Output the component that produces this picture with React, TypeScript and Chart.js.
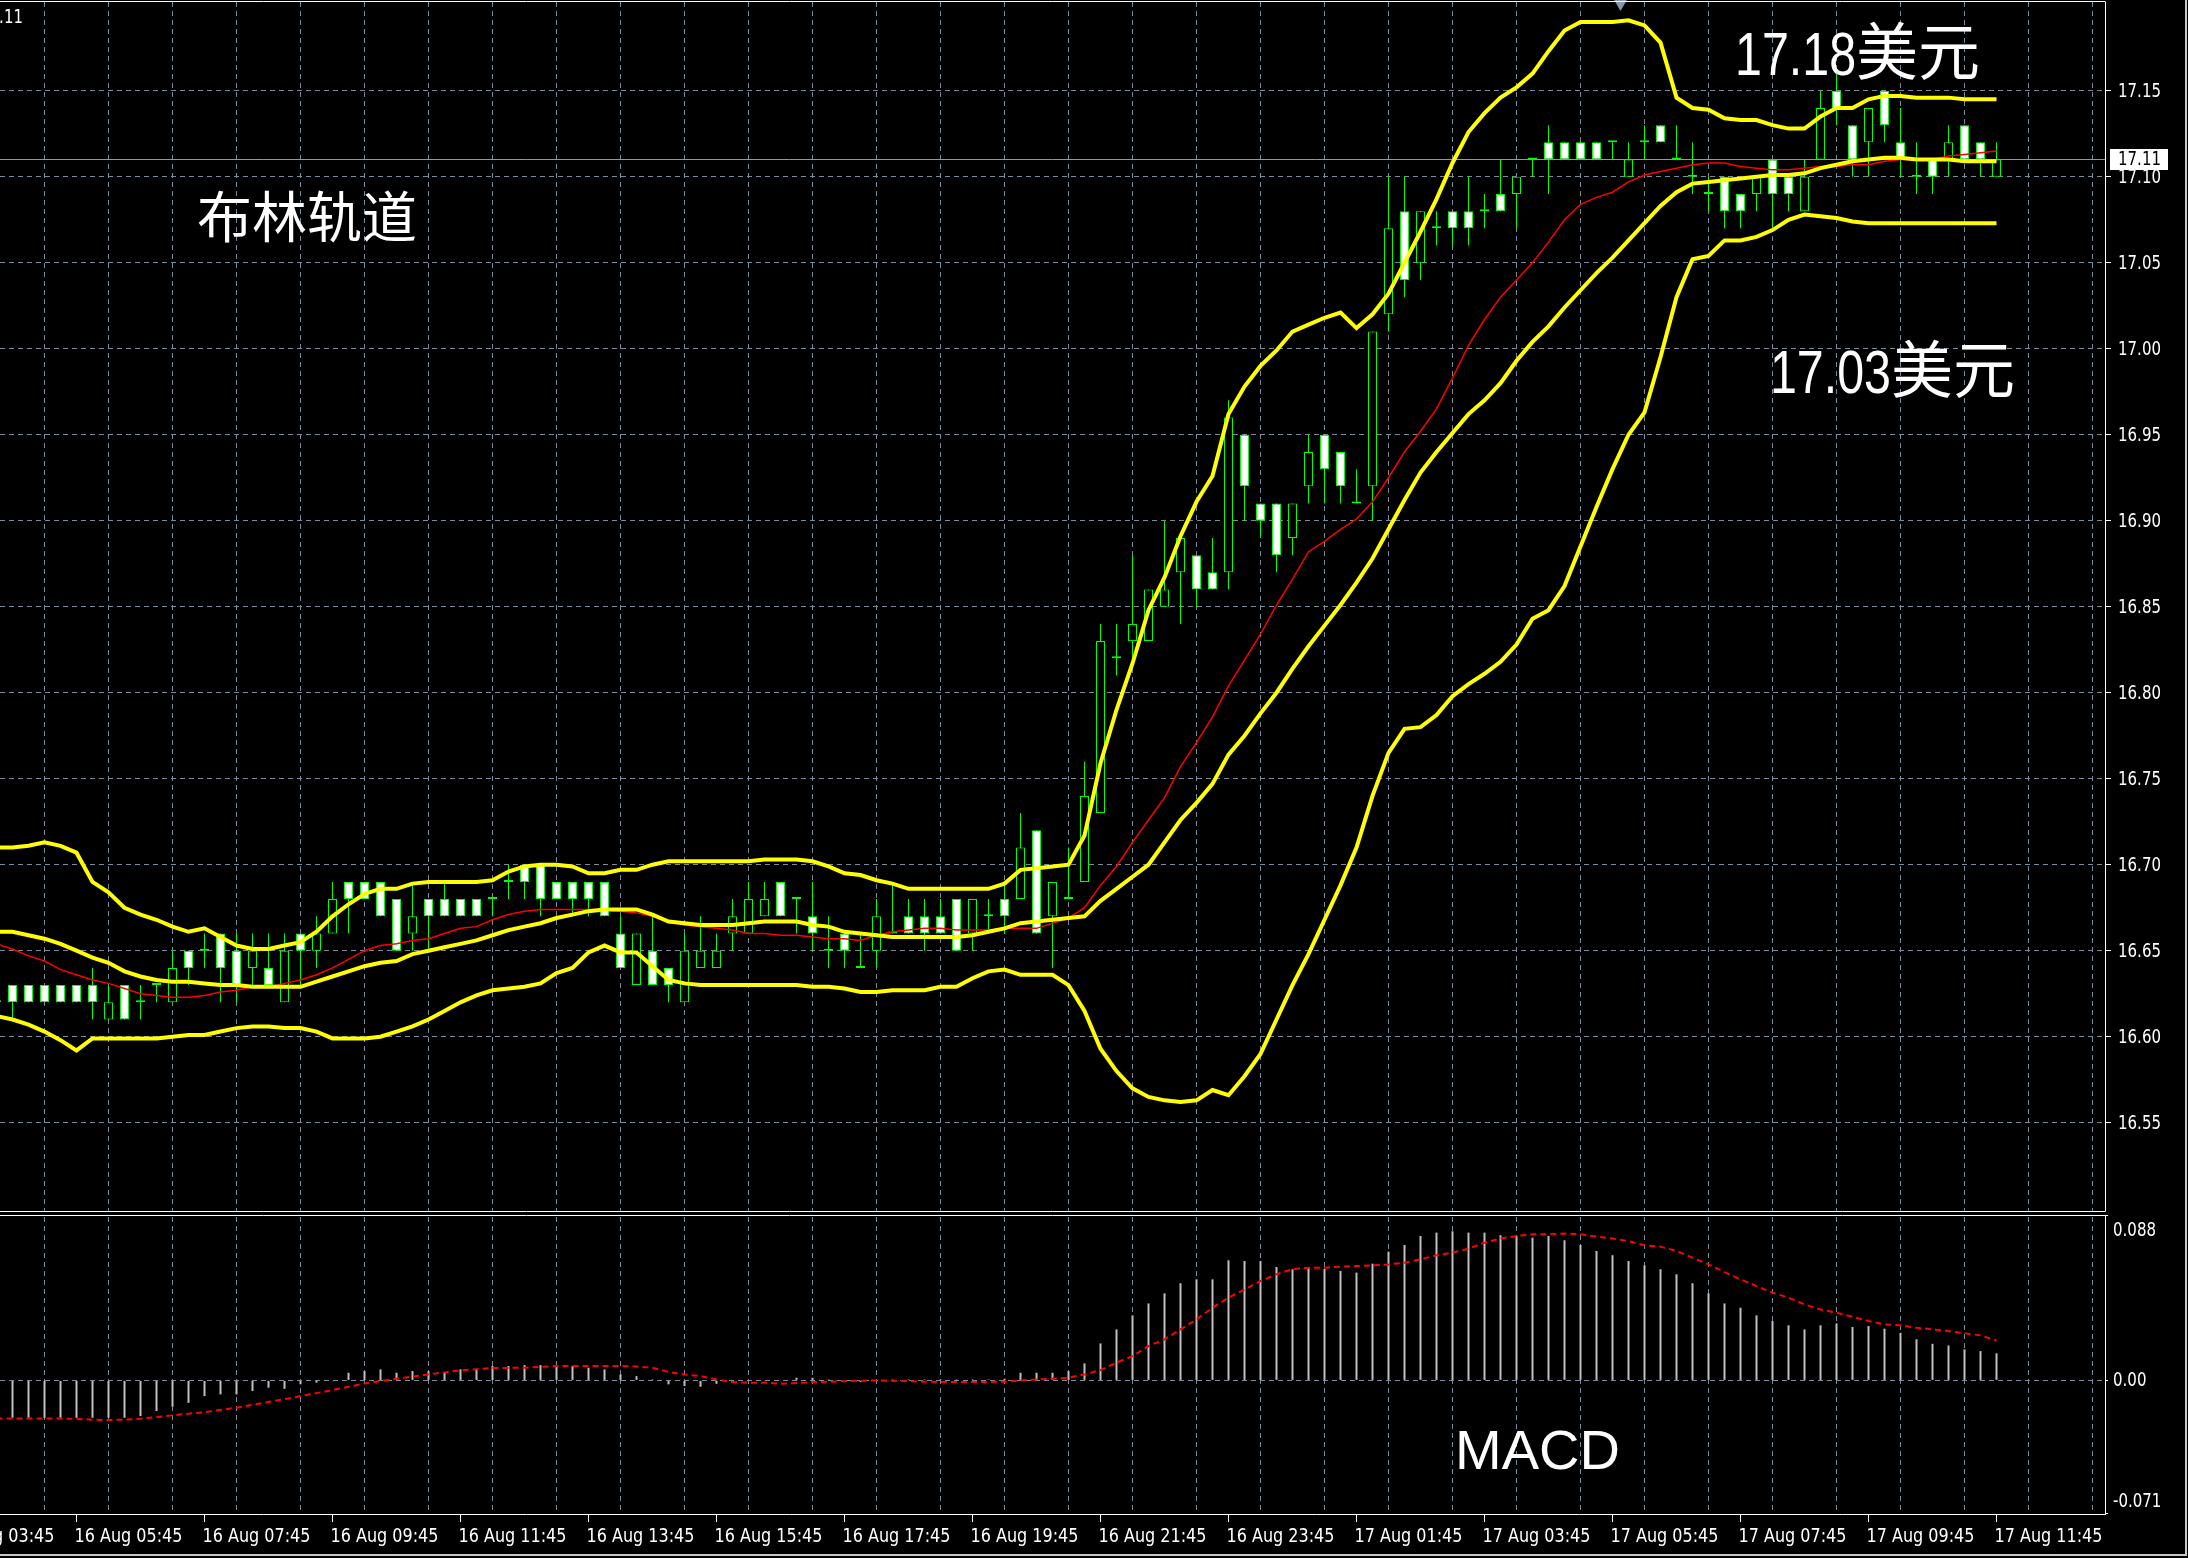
import { useEffect, useRef } from 'react';
import { Chart, registerables } from 'chart.js';

Chart.register(...registerables);

// ---------- DATA (15-minute bars, XAG/USD) ----------
// first bar index (0 = 16 Aug 04:45, one bar = 15 minutes)
const FIRST_BAR = -1;

const open = [
  16.62, 16.63, 16.63, 16.63, 16.63, 16.63, 16.63, 16.61, 16.63, 16.62,
  16.63, 16.62, 16.65, 16.65, 16.66, 16.65, 16.64, 16.64, 16.62, 16.66,
  16.65, 16.66, 16.69, 16.69, 16.69, 16.68, 16.66, 16.68, 16.68, 16.68,
  16.68, 16.68, 16.69, 16.70, 16.70, 16.69, 16.69, 16.69, 16.69, 16.66,
  16.63, 16.65, 16.64, 16.62, 16.64, 16.64, 16.66, 16.66, 16.67, 16.69,
  16.68, 16.67, 16.65, 16.66, 16.64, 16.65, 16.66, 16.67, 16.67, 16.67,
  16.68, 16.66, 16.67, 16.68, 16.68, 16.72, 16.67, 16.68, 16.69, 16.73,
  16.82, 16.83, 16.83, 16.85, 16.87, 16.88, 16.87, 16.87, 16.95, 16.91,
  16.91, 16.89, 16.92, 16.95, 16.94, 16.91, 16.92, 17.02, 17.08, 17.05,
  17.07, 17.08, 17.08, 17.08, 17.09, 17.09, 17.11, 17.12, 17.12, 17.12,
  17.12, 17.12, 17.10, 17.12, 17.13, 17.11, 17.10, 17.09, 17.10, 17.09,
  17.09, 17.11, 17.10, 17.08, 17.11, 17.15, 17.13, 17.12, 17.15, 17.12,
  17.10, 17.11, 17.11, 17.13, 17.12, 17.10,
];
const high = [
  16.63, 16.63, 16.63, 16.63, 16.63, 16.63, 16.64, 16.63, 16.63, 16.63,
  16.63, 16.65, 16.65, 16.66, 16.66, 16.66, 16.66, 16.66, 16.66, 16.66,
  16.67, 16.69, 16.69, 16.69, 16.69, 16.68, 16.69, 16.68, 16.69, 16.68,
  16.68, 16.68, 16.70, 16.70, 16.70, 16.69, 16.69, 16.69, 16.69, 16.67,
  16.66, 16.67, 16.64, 16.66, 16.67, 16.66, 16.68, 16.69, 16.69, 16.69,
  16.68, 16.69, 16.67, 16.66, 16.66, 16.68, 16.69, 16.68, 16.68, 16.68,
  16.68, 16.68, 16.68, 16.69, 16.73, 16.72, 16.69, 16.71, 16.76, 16.84,
  16.84, 16.88, 16.86, 16.90, 16.89, 16.88, 16.89, 16.97, 16.95, 16.91,
  16.91, 16.91, 16.95, 16.95, 16.94, 16.93, 17.01, 17.10, 17.10, 17.08,
  17.08, 17.08, 17.10, 17.09, 17.11, 17.10, 17.11, 17.13, 17.12, 17.12,
  17.12, 17.12, 17.12, 17.13, 17.13, 17.13, 17.12, 17.10, 17.10, 17.09,
  17.10, 17.11, 17.10, 17.11, 17.15, 17.16, 17.13, 17.14, 17.15, 17.14,
  17.12, 17.11, 17.13, 17.13, 17.12, 17.12,
];
const low = [
  16.61, 16.61, 16.62, 16.62, 16.62, 16.62, 16.61, 16.61, 16.61, 16.61,
  16.62, 16.62, 16.63, 16.64, 16.62, 16.62, 16.63, 16.63, 16.62, 16.63,
  16.64, 16.66, 16.66, 16.68, 16.67, 16.65, 16.65, 16.65, 16.67, 16.67,
  16.67, 16.67, 16.68, 16.68, 16.67, 16.68, 16.67, 16.67, 16.67, 16.64,
  16.63, 16.63, 16.62, 16.62, 16.64, 16.64, 16.65, 16.66, 16.67, 16.67,
  16.66, 16.65, 16.64, 16.64, 16.64, 16.64, 16.66, 16.66, 16.65, 16.66,
  16.65, 16.65, 16.66, 16.66, 16.68, 16.66, 16.64, 16.68, 16.69, 16.73,
  16.81, 16.82, 16.83, 16.85, 16.84, 16.85, 16.86, 16.86, 16.90, 16.89,
  16.87, 16.88, 16.91, 16.91, 16.91, 16.91, 16.90, 17.01, 17.03, 17.04,
  17.06, 17.06, 17.06, 17.07, 17.08, 17.07, 17.10, 17.09, 17.11, 17.11,
  17.11, 17.11, 17.10, 17.11, 17.12, 17.11, 17.09, 17.08, 17.07, 17.07,
  17.08, 17.07, 17.08, 17.08, 17.11, 17.13, 17.10, 17.10, 17.12, 17.10,
  17.09, 17.09, 17.10, 17.11, 17.10, 17.10,
];
const close = [
  16.62, 16.62, 16.62, 16.62, 16.62, 16.62, 16.62, 16.62, 16.61, 16.62,
  16.63, 16.64, 16.64, 16.65, 16.64, 16.63, 16.65, 16.63, 16.65, 16.65,
  16.66, 16.68, 16.68, 16.68, 16.67, 16.65, 16.67, 16.67, 16.67, 16.67,
  16.67, 16.68, 16.69, 16.69, 16.68, 16.68, 16.68, 16.68, 16.67, 16.64,
  16.66, 16.63, 16.63, 16.65, 16.65, 16.65, 16.67, 16.68, 16.68, 16.67,
  16.68, 16.66, 16.65, 16.65, 16.64, 16.67, 16.66, 16.66, 16.66, 16.66,
  16.65, 16.68, 16.67, 16.67, 16.71, 16.66, 16.69, 16.68, 16.74, 16.83,
  16.82, 16.84, 16.86, 16.86, 16.89, 16.86, 16.86, 16.96, 16.92, 16.90,
  16.88, 16.91, 16.94, 16.93, 16.92, 16.91, 17.01, 17.07, 17.04, 17.08,
  17.07, 17.07, 17.07, 17.08, 17.08, 17.10, 17.11, 17.11, 17.11, 17.11,
  17.11, 17.12, 17.11, 17.12, 17.12, 17.11, 17.10, 17.09, 17.08, 17.08,
  17.10, 17.09, 17.09, 17.10, 17.14, 17.14, 17.11, 17.14, 17.13, 17.11,
  17.10, 17.10, 17.12, 17.11, 17.11, 17.11,
];

// Bollinger Bands (upper / middle / lower)
const bbUpper = [
  16.710, 16.710, 16.711, 16.713, 16.711, 16.707, 16.690, 16.684, 16.675, 16.671,
  16.668, 16.664, 16.661, 16.663, 16.658, 16.653, 16.651, 16.651, 16.653, 16.655,
  16.661, 16.670, 16.677, 16.683, 16.686, 16.686, 16.689, 16.690, 16.690, 16.690,
  16.690, 16.691, 16.696, 16.699, 16.700, 16.700, 16.699, 16.695, 16.695, 16.697,
  16.697, 16.700, 16.702, 16.702, 16.702, 16.702, 16.702, 16.702, 16.703, 16.703,
  16.703, 16.702, 16.699, 16.695, 16.694, 16.691, 16.689, 16.686, 16.686, 16.686,
  16.686, 16.686, 16.686, 16.689, 16.697, 16.698, 16.699, 16.700, 16.717, 16.759,
  16.790, 16.817, 16.848, 16.867, 16.891, 16.911, 16.926, 16.962, 16.978, 16.990,
  16.999, 17.010, 17.014, 17.018, 17.021, 17.012, 17.020, 17.032, 17.050, 17.068,
  17.087, 17.108, 17.126, 17.137, 17.146, 17.152, 17.160, 17.173, 17.185, 17.190,
  17.190, 17.190, 17.191, 17.188, 17.178, 17.146, 17.140, 17.139, 17.134, 17.133,
  17.133, 17.130, 17.128, 17.128, 17.135, 17.140, 17.140, 17.145, 17.147, 17.147,
  17.146, 17.146, 17.146, 17.145, 17.145, 17.145,
];
const bbMiddle = [
  16.661, 16.661, 16.659, 16.657, 16.654, 16.650, 16.646, 16.643, 16.638, 16.635,
  16.633, 16.632, 16.632, 16.631, 16.630, 16.630, 16.629, 16.629, 16.629, 16.629,
  16.632, 16.635, 16.638, 16.641, 16.643, 16.644, 16.648, 16.650, 16.652, 16.654,
  16.656, 16.659, 16.662, 16.664, 16.666, 16.669, 16.671, 16.673, 16.674, 16.674,
  16.674, 16.671, 16.667, 16.666, 16.665, 16.665, 16.665, 16.666, 16.667, 16.667,
  16.667, 16.665, 16.664, 16.661, 16.660, 16.659, 16.658, 16.658, 16.658, 16.658,
  16.658, 16.659, 16.661, 16.663, 16.666, 16.667, 16.668, 16.669, 16.670, 16.679,
  16.686, 16.693, 16.700, 16.713, 16.726, 16.736, 16.747, 16.764, 16.775, 16.788,
  16.800, 16.814, 16.827, 16.839, 16.851, 16.864, 16.878, 16.895, 16.912, 16.928,
  16.940, 16.951, 16.962, 16.970, 16.980, 16.993, 17.004, 17.013, 17.024, 17.034,
  17.044, 17.053, 17.063, 17.073, 17.083, 17.091, 17.096, 17.097, 17.098, 17.099,
  17.100, 17.101, 17.101, 17.102, 17.105, 17.107, 17.109, 17.110, 17.111, 17.111,
  17.110, 17.110, 17.110, 17.109, 17.109, 17.109,
];
const bbLower = [
  16.612, 16.610, 16.607, 16.603, 16.598, 16.592, 16.599, 16.599, 16.599, 16.599,
  16.599, 16.600, 16.601, 16.601, 16.603, 16.605, 16.606, 16.606, 16.605, 16.605,
  16.603, 16.599, 16.599, 16.599, 16.600, 16.603, 16.606, 16.610, 16.615, 16.620,
  16.624, 16.627, 16.628, 16.629, 16.631, 16.637, 16.640, 16.649, 16.653, 16.649,
  16.649, 16.641, 16.633, 16.631, 16.630, 16.630, 16.630, 16.630, 16.630, 16.630,
  16.630, 16.629, 16.629, 16.628, 16.626, 16.626, 16.627, 16.627, 16.627, 16.629,
  16.629, 16.634, 16.638, 16.639, 16.636, 16.636, 16.636, 16.630, 16.615, 16.593,
  16.580, 16.570, 16.565, 16.563, 16.562, 16.563, 16.569, 16.566, 16.577, 16.590,
  16.610, 16.630, 16.648, 16.668, 16.688, 16.710, 16.740, 16.765, 16.779, 16.780,
  16.787, 16.798, 16.805, 16.811, 16.818, 16.828, 16.843, 16.848, 16.862, 16.885,
  16.908, 16.930, 16.950, 16.963, 16.995, 17.030, 17.052, 17.054, 17.063, 17.063,
  17.065, 17.069, 17.075, 17.078, 17.077, 17.076, 17.074, 17.073, 17.073, 17.073,
  17.073, 17.073, 17.073, 17.073, 17.073, 17.073,
];
// red moving average
const maRed = [
  16.654, 16.651, 16.647, 16.644, 16.639, 16.636, 16.633, 16.631, 16.628, 16.625,
  16.624, 16.623, 16.623, 16.624, 16.626, 16.627, 16.629, 16.629, 16.631, 16.633,
  16.636, 16.640, 16.645, 16.650, 16.653, 16.654, 16.656, 16.657, 16.660, 16.663,
  16.664, 16.668, 16.671, 16.673, 16.674, 16.674, 16.674, 16.674, 16.674, 16.673,
  16.672, 16.670, 16.667, 16.665, 16.664, 16.663, 16.662, 16.660, 16.660, 16.659,
  16.659, 16.658, 16.657, 16.657, 16.656, 16.659, 16.661, 16.662, 16.663, 16.663,
  16.662, 16.662, 16.662, 16.663, 16.663, 16.663, 16.666, 16.669, 16.675, 16.688,
  16.699, 16.713, 16.726, 16.739, 16.757, 16.771, 16.786, 16.804, 16.819, 16.834,
  16.851, 16.866, 16.882, 16.888, 16.895, 16.901, 16.911, 16.925, 16.940, 16.952,
  16.965, 16.983, 17.002, 17.017, 17.030, 17.040, 17.050, 17.062, 17.075, 17.084,
  17.088, 17.091, 17.097, 17.101, 17.103, 17.105, 17.107, 17.108, 17.108, 17.106,
  17.105, 17.104, 17.104, 17.105, 17.106, 17.106, 17.107, 17.107, 17.109, 17.110,
  17.110, 17.110, 17.112, 17.113, 17.114, 17.115,
];

// MACD histogram and signal line
const macdHist = [
  -0.0200, -0.0200, -0.0200, -0.0200, -0.0200, -0.0200, -0.0200, -0.0200, -0.0200, -0.0191,
  -0.0164, -0.0141, -0.0120, -0.0084, -0.0075, -0.0075, -0.0057, -0.0039, -0.0045, -0.0021,
  -0.0012, -0.0004, 0.0041, 0.0050, 0.0059, 0.0041, 0.0050, 0.0050, 0.0041, 0.0059,
  0.0059, 0.0077, 0.0077, 0.0082, 0.0082, 0.0082, 0.0077, 0.0068, 0.0059, 0.0032,
  0.0023, 0.0005, -0.0021, -0.0030, -0.0034, -0.0018, -0.0012, -0.0004, -0.0004, -0.0004,
  0.0014, 0.0014, 0.0005, -0.0004, -0.0009, 0.0000, 0.0005, 0.0005, 0.0005, 0.0005,
  0.0005, 0.0005, 0.0005, 0.0009, 0.0041, 0.0041, 0.0041, 0.0050, 0.0091, 0.0198,
  0.0273, 0.0348, 0.0412, 0.0466, 0.0520, 0.0541, 0.0541, 0.0643, 0.0639, 0.0639,
  0.0607, 0.0595, 0.0603, 0.0598, 0.0586, 0.0577, 0.0625, 0.0689, 0.0725, 0.0773,
  0.0791, 0.0798, 0.0791, 0.0791, 0.0777, 0.0773, 0.0764, 0.0773, 0.0750, 0.0725,
  0.0693, 0.0670, 0.0639, 0.0616, 0.0595, 0.0568, 0.0520, 0.0466, 0.0412, 0.0389,
  0.0348, 0.0318, 0.0295, 0.0273, 0.0295, 0.0305, 0.0286, 0.0291, 0.0277, 0.0255,
  0.0220, 0.0196, 0.0187, 0.0166, 0.0157, 0.0145,
];
const macdSignal = [
  -0.0204, -0.0204, -0.0204, -0.0204, -0.0204, -0.0206, -0.0210, -0.0212, -0.0210, -0.0205,
  -0.0196, -0.0187, -0.0178, -0.0170, -0.0158, -0.0146, -0.0131, -0.0116, -0.0100, -0.0084,
  -0.0068, -0.0052, -0.0034, -0.0016, -0.0004, 0.0009, 0.0020, 0.0032, 0.0043, 0.0054,
  0.0060, 0.0066, 0.0067, 0.0068, 0.0073, 0.0077, 0.0077, 0.0077, 0.0077, 0.0077,
  0.0075, 0.0068, 0.0045, 0.0032, 0.0023, 0.0005, -0.0009, -0.0012, -0.0012, -0.0018,
  -0.0014, -0.0009, -0.0007, -0.0004, -0.0002, 0.0000, -0.0002, -0.0004, -0.0007, -0.0009,
  -0.0009, -0.0009, -0.0008, -0.0007, 0.0000, 0.0005, 0.0009, 0.0014, 0.0032, 0.0055,
  0.0095, 0.0130, 0.0184, 0.0220, 0.0273, 0.0327, 0.0389, 0.0443, 0.0487, 0.0532,
  0.0568, 0.0595, 0.0603, 0.0603, 0.0609, 0.0612, 0.0616, 0.0621, 0.0630, 0.0648,
  0.0670, 0.0684, 0.0705, 0.0737, 0.0759, 0.0773, 0.0782, 0.0782, 0.0786, 0.0782,
  0.0770, 0.0759, 0.0746, 0.0723, 0.0716, 0.0693, 0.0657, 0.0621, 0.0580, 0.0541,
  0.0505, 0.0470, 0.0443, 0.0407, 0.0380, 0.0362, 0.0341, 0.0318, 0.0300, 0.0295,
  0.0282, 0.0273, 0.0264, 0.0252, 0.0241, 0.0214,
];

// axis ticks
const priceTicks = [16.55, 16.60, 16.65, 16.70, 16.75, 16.80, 16.85, 16.90, 16.95, 17.00, 17.05, 17.10, 17.15];
const macdTicks = [0.088, 0, -0.071];
const timeTickBars = [-4, 4, 12, 20, 28, 36, 44, 52, 60, 68, 76, 84, 92, 100, 108, 116, 124];
const timeTickLabels = [
  '16 Aug 03:45', '16 Aug 05:45', '16 Aug 07:45', '16 Aug 09:45', '16 Aug 11:45', '16 Aug 13:45',
  '16 Aug 15:45', '16 Aug 17:45', '16 Aug 19:45', '16 Aug 21:45', '16 Aug 23:45', '17 Aug 01:45',
  '17 Aug 03:45', '17 Aug 05:45', '17 Aug 07:45', '17 Aug 09:45', '17 Aug 11:45',
];
const hourGridBars = Array.from({ length: 33 }, (_, k) => k * 4);
const currentPrice = 17.11;
const shiftMarker = [{ x: 100.5, y: 17.201 }];

// text annotations (anchor in bar / price units)
const priceNotes = [
  { num: '', unit: '布林轨道', bar: 11.53, price: 17.065, size: 55 },
  { num: '17.18', unit: '美元', bar: 107.66, price: 17.1592, size: 62 },
  { num: '17.03', unit: '美元', bar: 109.84, price: 16.9743, size: 62 },
];
const macdNote = { text: 'MACD', bar: 90.16, value: -0.0474, size: 56 };
const cornerNote = { text: '17.11', bar: 0.656, price: 17.1894 };

// ---------- STYLE ----------
const GRID = '#7b8a9c';
const NARROW = '"Liberation Sans Narrow", "DejaVu Sans Condensed", "Arial Narrow", sans-serif';
const SANS = '"Liberation Sans", Arial, sans-serif';
const CJK = '"Noto Sans CJK SC", "Noto Sans", sans-serif';
const AXIS_FONT = `19px ${NARROW}`;
const PRICE_LABEL_WIDTH = 43; // px width of a "17.15"-style label
const TIME_LABEL_WIDTH = 108; // px width of a "16 Aug 05:45" label

const bars = open.map((_, k) => FIRST_BAR + k);
const pts = (arr: number[]) => arr.map((v, k) => ({ x: bars[k], y: v }));

const drawScaled = (ctx: CanvasRenderingContext2D, text: string, x: number, y: number, sx: number) => {
  ctx.save();
  ctx.translate(x, y);
  ctx.scale(sx, 1);
  ctx.fillText(text, 0, 0);
  ctx.restore();
};

const overlayPlugin = {
  id: 'mt4Overlay',
  beforeDraw(chart: any) {
    const { ctx, width, height } = chart;
    ctx.save();
    ctx.fillStyle = '#000000';
    ctx.fillRect(0, 0, width, height);
    ctx.restore();
  },
  beforeDatasetsDraw(chart: any) {
    const { ctx, chartArea, scales } = chart;
    const py = Math.round(scales.y.getPixelForValue(currentPrice) - 0.5) + 0.5;
    ctx.save();
    ctx.strokeStyle = '#8a9bb0';
    ctx.lineWidth = 1;
    ctx.beginPath();
    ctx.moveTo(chartArea.left, py);
    ctx.lineTo(chartArea.right, py);
    ctx.stroke();
    ctx.restore();
  },
  afterDraw(chart: any) {
    const { ctx, chartArea, scales, width, height } = chart;
    const { x, y, y2 } = scales;
    ctx.save();

    // pane separator + top border
    const sep = y.bottom;
    ctx.fillStyle = '#000000';
    ctx.fillRect(chartArea.left, sep - 2, chartArea.right - chartArea.left + 2, 4);
    ctx.strokeStyle = '#ffffff';
    ctx.lineWidth = 1;
    ctx.beginPath();
    ctx.moveTo(chartArea.left, sep - 1.5);
    ctx.lineTo(chartArea.right + 0.5, sep - 1.5);
    ctx.moveTo(chartArea.left, sep + 2.5);
    ctx.lineTo(chartArea.right + 0.5, sep + 2.5);
    ctx.moveTo(chartArea.left, chartArea.top - 0.5);
    ctx.lineTo(chartArea.right + 0.5, chartArea.top - 0.5);
    ctx.moveTo(chartArea.right + 0.5, sep - 1.5);
    ctx.lineTo(chartArea.right + 0.5, sep - 6);
    ctx.moveTo(chartArea.right + 0.5, sep + 2.5);
    ctx.lineTo(chartArea.right + 0.5, sep + 6);
    ctx.stroke();

    ctx.font = AXIS_FONT;
    const priceSX = PRICE_LABEL_WIDTH / ctx.measureText('17.15').width;
    const timeSX = TIME_LABEL_WIDTH / ctx.measureText('16 Aug 05:45').width;

    // time axis ticks & labels
    ctx.fillStyle = '#ffffff';
    ctx.textAlign = 'left';
    ctx.textBaseline = 'alphabetic';
    timeTickBars.forEach((b, k) => {
      const px = Math.round(x.getPixelForValue(b) - 0.5) + 0.5;
      ctx.beginPath();
      ctx.moveTo(px, chartArea.bottom);
      ctx.lineTo(px, chartArea.bottom + 8);
      ctx.stroke();
      drawScaled(ctx, timeTickLabels[k], px - 2, chartArea.bottom + 28, timeSX);
    });

    // price axis ticks & labels
    ctx.textBaseline = 'middle';
    priceTicks.forEach((v) => {
      const py = y.getPixelForValue(v);
      const ty = Math.round(py - 0.5) + 0.5;
      ctx.beginPath();
      ctx.moveTo(y.left, ty);
      ctx.lineTo(y.left + 6, ty);
      ctx.stroke();
      drawScaled(ctx, v.toFixed(2), y.left + 13, py + 1, priceSX);
    });

    // MACD axis ticks & labels
    macdTicks.forEach((v) => {
      const py = y2.getPixelForValue(v);
      const ty = Math.round(py - 0.5) + 0.5;
      ctx.beginPath();
      ctx.moveTo(y2.left, ty);
      ctx.lineTo(y2.left + 3, ty);
      ctx.stroke();
      const label = v === 0 ? '0.00' : v.toFixed(3);
      const cy = v > 0 ? py + 14 : v < 0 ? py - 12 : py;
      drawScaled(ctx, label, y2.left + 8, cy + 1, priceSX);
    });

    // current price box
    const cp = y.getPixelForValue(currentPrice);
    ctx.fillStyle = '#ffffff';
    ctx.fillRect(y.left + 5, Math.round(cp) - 11, 58, 21);
    ctx.fillStyle = '#000000';
    drawScaled(ctx, currentPrice.toFixed(2), y.left + 13, cp + 1, priceSX);

    // corner label (cut off at the left edge)
    ctx.fillStyle = '#ffffff';
    ctx.textAlign = 'right';
    ctx.textBaseline = 'alphabetic';
    drawScaled(ctx, cornerNote.text, x.getPixelForValue(cornerNote.bar), y.getPixelForValue(cornerNote.price), priceSX);

    // annotations
    ctx.textAlign = 'left';
    priceNotes.forEach((n) => {
      const nx = x.getPixelForValue(n.bar);
      const ny = y.getPixelForValue(n.price);
      let w = 0;
      if (n.num) {
        ctx.font = `${n.size}px ${SANS}`;
        w = ctx.measureText(n.num).width * 0.78;
        drawScaled(ctx, n.num, nx, ny, 0.78);
      }
      ctx.font = `${n.size}px ${CJK}`;
      ctx.fillText(n.unit, nx + w, ny);
    });
    ctx.font = `${macdNote.size}px ${SANS}`;
    ctx.fillText(macdNote.text, x.getPixelForValue(macdNote.bar), y2.getPixelForValue(macdNote.value));

    // window frame
    ctx.fillStyle = '#c8c8c8';
    ctx.fillRect(width - 3, 0, 2, height - 2);
    ctx.fillRect(0, height - 4, width - 2, 2);
    ctx.restore();
  },
};

export default function App() {
  const ref = useRef<HTMLCanvasElement>(null);

  useEffect(() => {
    const canvas = ref.current as HTMLCanvasElement;
    const barCommon = {
      grouped: false,
      barPercentage: 1,
      categoryPercentage: 1,
      inflateAmount: 0,
    };
    const chart = new Chart(canvas, {
      type: 'bar',
      data: {
        datasets: [
          {
            ...barCommon,
            type: 'bar',
            label: 'wick',
            data: bars.map((b, k) => ({ x: b, y: [low[k], high[k]] })),
            backgroundColor: '#00ff00',
            borderWidth: 0,
            maxBarThickness: 1,
            yAxisID: 'y',
            order: 6,
          },
          {
            ...barCommon,
            type: 'bar',
            label: 'body',
            data: bars.map((b, k) => ({ x: b, y: [open[k], close[k]] })),
            backgroundColor: (c: any) => {
              const k = c.dataIndex;
              if (k === undefined) return '#000000';
              return close[k] < open[k] ? '#ffffff' : '#000000';
            },
            borderColor: '#00ff00',
            borderWidth: 1,
            borderSkipped: false,
            minBarLength: 2,
            maxBarThickness: 9,
            yAxisID: 'y',
            order: 5,
          },
          {
            ...barCommon,
            type: 'bar',
            label: 'MACD',
            data: pts(macdHist),
            backgroundColor: '#c0c0c0',
            borderWidth: 0,
            maxBarThickness: 2,
            yAxisID: 'y2',
            order: 5,
          },
          {
            type: 'line',
            label: 'MA',
            data: pts(maRed),
            borderColor: '#ff0000',
            borderWidth: 1.5,
            pointRadius: 0,
            yAxisID: 'y',
            order: 3,
          },
          {
            type: 'line',
            label: 'BB upper',
            data: pts(bbUpper),
            borderColor: '#ffff00',
            borderWidth: 4,
            pointRadius: 0,
            yAxisID: 'y',
            order: 2,
          },
          {
            type: 'line',
            label: 'BB middle',
            data: pts(bbMiddle),
            borderColor: '#ffff00',
            borderWidth: 4,
            pointRadius: 0,
            yAxisID: 'y',
            order: 2,
          },
          {
            type: 'line',
            label: 'BB lower',
            data: pts(bbLower),
            borderColor: '#ffff00',
            borderWidth: 4,
            pointRadius: 0,
            yAxisID: 'y',
            order: 2,
          },
          {
            type: 'line',
            label: 'Signal',
            data: pts(macdSignal),
            borderColor: '#ff0000',
            borderWidth: 2,
            borderDash: [6, 4],
            pointRadius: 0,
            yAxisID: 'y2',
            order: 1,
          },
          {
            type: 'line',
            label: 'shift',
            data: shiftMarker,
            showLine: false,
            pointStyle: 'triangle',
            pointRotation: 180,
            pointRadius: 8,
            pointBackgroundColor: '#8796aa',
            pointBorderWidth: 0,
            yAxisID: 'y',
            clip: false,
            order: 0,
          },
        ],
      } as any,
      options: {
        responsive: false,
        animation: false,
        devicePixelRatio: 1,
        events: [],
        layout: { autoPadding: false, padding: { top: 2, bottom: 44, left: 0, right: 0 } },
        plugins: { legend: { display: false }, tooltip: { enabled: false } },
        scales: {
          x: {
            type: 'linear',
            min: -0.78125,
            max: 130.78125,
            offset: false,
            grid: { color: GRID, lineWidth: 1, drawTicks: false },
            border: { display: true, color: '#ffffff', width: 1, dash: [5, 4] },
            ticks: { display: false },
            afterBuildTicks: (s: any) => {
              s.ticks = hourGridBars.map((v) => ({ value: v }));
            },
            afterFit: (s: any) => {
              s.height = 0;
              s.paddingLeft = 0;
              s.paddingRight = 0;
            },
          },
          y: {
            type: 'linear',
            position: 'right',
            stack: 'panes',
            stackWeight: 1211,
            min: 16.4975,
            max: 17.2016,
            grid: { color: GRID, lineWidth: 1, drawTicks: false },
            border: { display: true, color: '#ffffff', width: 1, dash: [5, 4] },
            ticks: { display: false },
            afterBuildTicks: (s: any) => {
              s.ticks = priceTicks.map((v) => ({ value: v }));
            },
            afterFit: (s: any) => {
              s.width = 83;
              s.paddingTop = 0;
              s.paddingBottom = 0;
            },
          },
          y2: {
            type: 'linear',
            position: 'right',
            stack: 'panes',
            stackWeight: 301,
            min: -0.0715,
            max: 0.0896,
            grid: { color: GRID, lineWidth: 1, drawTicks: false },
            border: { display: true, color: '#ffffff', width: 1, dash: [5, 4] },
            ticks: { display: false },
            afterBuildTicks: (s: any) => {
              s.ticks = [{ value: 0 }];
            },
            afterFit: (s: any) => {
              s.width = 83;
              s.paddingTop = 0;
              s.paddingBottom = 0;
            },
          },
        },
      } as any,
      plugins: [overlayPlugin],
    });
    return () => chart.destroy();
  }, []);

  return (
    <div style={{ position: 'fixed', left: 0, top: 0, width: 2188, height: 1558, background: '#000' }}>
      <canvas ref={ref} width={2188} height={1558} style={{ display: 'block', width: 2188, height: 1558 }} />
    </div>
  );
}
